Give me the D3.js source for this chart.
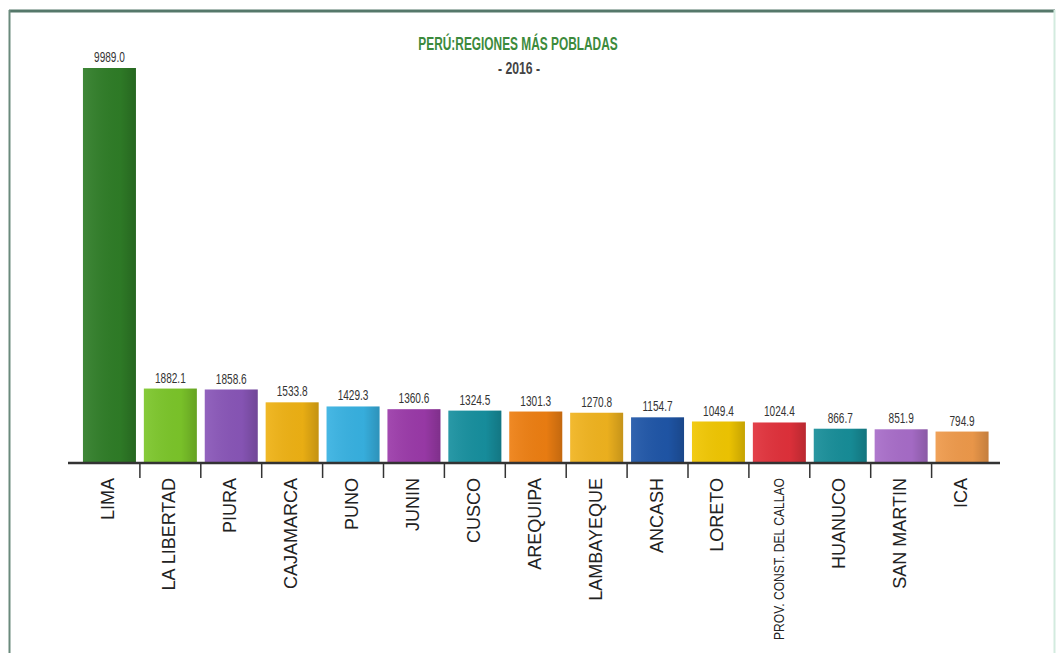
<!DOCTYPE html>
<html>
<head>
<meta charset="utf-8">
<script src="https://cdn.jsdelivr.net/npm/d3@7"></script>
<style>
  body { margin: 0; background: #fff; }
  svg { display: block; }
</style>
</head>
<body>
<div id="chart"></div>
<script>
// Regiones más pobladas del Perú, 2016 (miles de habitantes)
const regions = ['LIMA', 'LA LIBERTAD', 'PIURA', 'CAJAMARCA', 'PUNO', 'JUNIN', 'CUSCO', 'AREQUIPA',
  'LAMBAYEQUE', 'ANCASH', 'LORETO', 'PROV. CONST. DEL CALLAO', 'HUANUCO', 'SAN MARTIN', 'ICA'];
const population = [9989.0, 1882.1, 1858.6, 1533.8, 1429.3, 1360.6, 1324.5, 1301.3,
  1270.8, 1154.7, 1049.4, 1024.4, 866.7, 851.9, 794.9];
const barColors = ['#2f7d27', '#7cc62a', '#8956b8', '#efb214', '#38b2e2', '#9b3aa9', '#17909f', '#ee7f12',
  '#f1b41f', '#1f56a8', '#f1c702', '#e1313b', '#178e99', '#a86dc9', '#ef9a4b'];

const width = 1058;
const height = 653;
const baseY = 463; // px, axis line

const svg = d3.select('#chart').append('svg')
  .attr('width', width)
  .attr('height', height);

// frame
svg.append('line').attr('x1', 9).attr('x2', 1055).attr('y1', 11).attr('y2', 11)
  .attr('stroke', '#55786a').attr('stroke-width', 3);
svg.append('line').attr('x1', 9.5).attr('x2', 9.5).attr('y1', 10).attr('y2', height)
  .attr('stroke', '#6a8a7c').attr('stroke-width', 2);
svg.append('line').attr('x1', 1054.5).attr('x2', 1054.5).attr('y1', 10).attr('y2', height)
  .attr('stroke', '#d3ebdf').attr('stroke-width', 2);

const x = d3.scaleBand()
  .domain(regions)
  .range([79, 992.5])
  .paddingInner(0.13)
  .paddingOuter(0.065);

const y = d3.scaleLinear()
  .domain([0, 9989])
  .range([baseY, 68]);

// shading across each bar, darker to the right
const defs = svg.append('defs');
const shade = defs.append('linearGradient').attr('id', 'shade')
  .attr('x1', 0).attr('x2', 1).attr('y1', 0).attr('y2', 0);
shade.append('stop').attr('offset', '0%').attr('stop-color', '#fff').attr('stop-opacity', 0.08);
shade.append('stop').attr('offset', '70%').attr('stop-color', '#000').attr('stop-opacity', 0.03);
shade.append('stop').attr('offset', '100%').attr('stop-color', '#000').attr('stop-opacity', 0.18);

const data = regions.map((name, i) => ({name, value: population[i], color: barColors[i]}));

const bars = svg.append('g').selectAll('g').data(data).join('g');
bars.append('rect')
  .attr('x', d => x(d.name))
  .attr('y', d => y(d.value))
  .attr('width', x.bandwidth())
  .attr('height', d => baseY - y(d.value))
  .attr('fill', d => d.color);
bars.append('rect')
  .attr('x', d => x(d.name))
  .attr('y', d => y(d.value))
  .attr('width', x.bandwidth())
  .attr('height', d => baseY - y(d.value))
  .attr('fill', 'url(#shade)');

// value labels, condensed
bars.append('text')
  .attr('transform', d => `translate(${x(d.name) + x.bandwidth() / 2},${y(d.value) - 6}) scale(0.72,1)`)
  .attr('text-anchor', 'middle')
  .attr('font-family', 'Liberation Sans, Arial, sans-serif')
  .attr('font-size', 14)
  .attr('fill', '#333')
  .text(d => d.value.toFixed(1));

// axis
svg.append('line')
  .attr('x1', 68).attr('x2', 1000).attr('y1', baseY).attr('y2', baseY)
  .attr('stroke', '#333').attr('stroke-width', 2.5);

const step = x.step();
svg.append('g').selectAll('line').data(regions.slice(1)).join('line')
  .attr('x1', d => x(d) - step * x.paddingInner() / 2)
  .attr('x2', d => x(d) - step * x.paddingInner() / 2)
  .attr('y1', baseY)
  .attr('y2', baseY + 15)
  .attr('stroke', '#333')
  .attr('stroke-width', 1.5);

svg.append('g').selectAll('text').data(regions).join('text')
  .attr('transform', d => `translate(${x(d) + x.bandwidth() / 2 + 5},478) rotate(-90)`)
  .attr('text-anchor', 'end')
  .attr('font-family', 'Liberation Sans, Arial, sans-serif')
  .attr('font-size', d => d.length > 15 ? 14 : 18)
  .attr('fill', '#222')
  .each(function(d) {
    if (d.length > 15) {
      d3.select(this).attr('textLength', 162).attr('lengthAdjust', 'spacingAndGlyphs');
    }
  })
  .text(d => d);

// title
svg.append('text')
  .attr('transform', 'translate(518,50) scale(0.66,1)')
  .attr('text-anchor', 'middle')
  .attr('font-family', 'Liberation Sans, Arial, sans-serif')
  .attr('font-weight', 'bold')
  .attr('font-size', 18)
  .attr('fill', '#3c8a3c')
  .text('PERÚ:REGIONES MÁS POBLADAS');

svg.append('text')
  .attr('transform', 'translate(519,74) scale(0.72,1)')
  .attr('text-anchor', 'middle')
  .attr('font-family', 'Liberation Sans, Arial, sans-serif')
  .attr('font-weight', 'bold')
  .attr('font-size', 17)
  .attr('fill', '#444')
  .text('- 2016 -');
</script>
</body>
</html>
